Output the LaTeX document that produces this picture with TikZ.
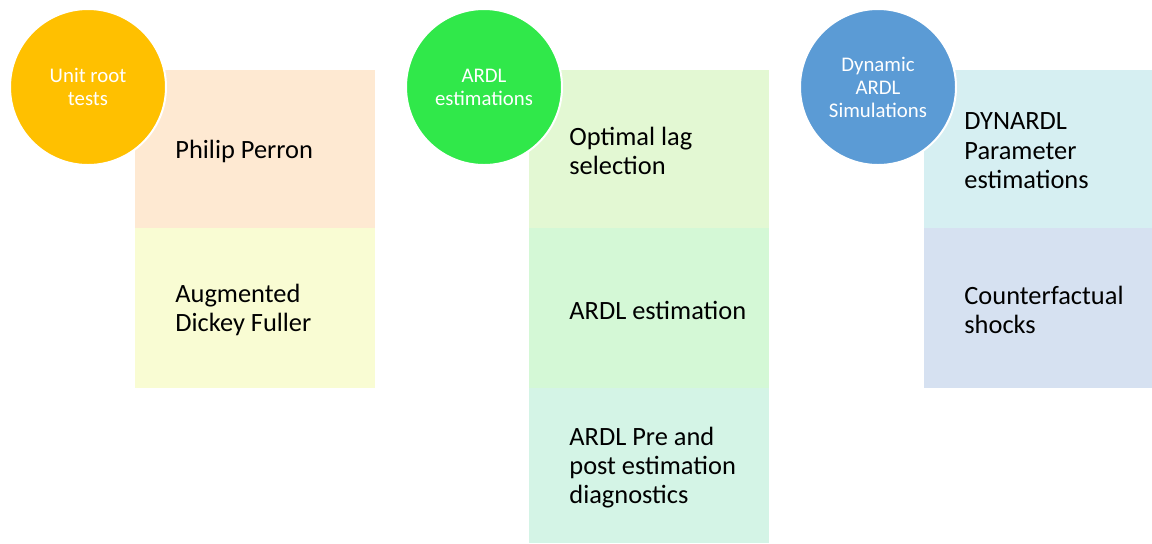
\documentclass[tikz,border=0pt]{standalone}
\usepackage{fontspec}
\setmainfont{Carlito}
\usepackage{xcolor}
\usepackage{tikz}
\usetikzlibrary{positioning}
\definecolor{UnitGold}{HTML}{FFC000}
\definecolor{ArdlGreen}{HTML}{30E84A}
\definecolor{DynBlue}{HTML}{5B9BD5}
\definecolor{PeachCell}{HTML}{FEE9D2}
\definecolor{LemonCell}{HTML}{F9FCD3}
\definecolor{LagCell}{HTML}{E3F8D3}
\definecolor{EstCell}{HTML}{D4F8D6}
\definecolor{DiagCell}{HTML}{D4F4E6}
\definecolor{ParCell}{HTML}{D6EFF2}
\definecolor{ShockCell}{HTML}{D6E1F1}
\tikzset{
  stage/.style={circle, minimum size=78pt, inner sep=0pt, draw=white,
                line width=1pt, text=white, align=center,
                font=\fontsize{10.4}{11.5}\selectfont},
  cell/.style={rectangle, minimum width=120pt, minimum height=80pt,
               inner sep=0pt, outer sep=0pt},
  celltext/.style={anchor=west, align=left, inner sep=0pt, yshift=-1pt,
                   font=\fontsize{13.2}{14.7}\selectfont}
}

\begin{document}
\begin{tikzpicture}[x=0.5pt, y=-0.5pt]
  \clip (0,0) rectangle (1152,543);
  % unit root tests
  \node[cell, fill=PeachCell, minimum height=79pt, anchor=north west] (pp) at (135,70) {};
  \node[cell, fill=LemonCell, below=0pt of pp] (adf) {};
  \node[celltext, right=20pt of pp.west] (pp-t) {Philip Perron};
  \node[celltext, right=20pt of adf.west] (adf-t) {Augmented\\Dickey Fuller};
  % ARDL estimations
  \node[cell, fill=LagCell, minimum height=79pt, anchor=north west] (lag) at (529,70) {};
  \node[cell, fill=EstCell, below=0pt of lag] (est) {};
  \node[cell, fill=DiagCell, minimum height=77.5pt, below=0pt of est] (diag) {};
  \node[celltext, right=20pt of lag.west] (lag-t) {Optimal lag\\selection};
  \node[celltext, right=20pt of est.west] (est-t) {ARDL estimation};
  \node[celltext, right=20pt of diag.west] (diag-t) {ARDL Pre and\\post estimation\\diagnostics};
  % dynamic ARDL simulations
  \node[cell, fill=ParCell, minimum height=79pt, anchor=north west] (par) at (924,70) {};
  \node[cell, fill=ShockCell, below=0pt of par] (shock) {};
  \node[celltext, right=20pt of par.west] (par-t) {DYNARDL\\Parameter\\estimations};
  \node[celltext, right=20pt of shock.west] (shock-t) {Counterfactual\\shocks};
  % circles on top
  \node[stage, fill=UnitGold] (unit) at (88,87) {Unit root\\tests};
  \node[stage, fill=ArdlGreen] (ardl) at (484,87) {ARDL\\estimations};
  \node[stage, fill=DynBlue] (dyn) at (878,87) {Dynamic\\ARDL\\Simulations};
\end{tikzpicture}
\end{document}
